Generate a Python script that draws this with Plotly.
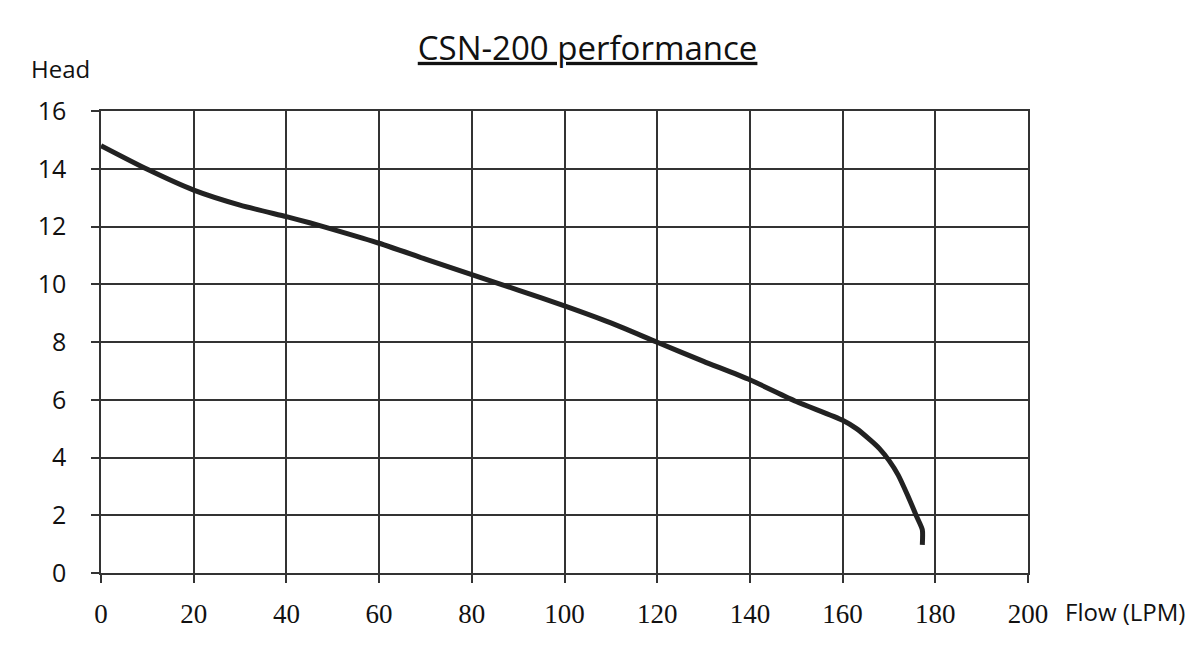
import plotly.graph_objects as go

# pump curve
flow_lpm = [0, 10, 20, 30, 40, 45, 50, 60, 70, 80, 90, 100, 110, 120, 130, 140,
            150, 160, 163, 166, 168, 170, 172, 174, 176, 177.2, 177.2]
head = [14.8, 13.98, 13.26, 12.74, 12.34, 12.13, 11.9, 11.42, 10.87, 10.33, 9.8, 9.25,
        8.66, 7.99, 7.33, 6.69, 5.94, 5.29, 5.0, 4.6, 4.3, 3.9, 3.39, 2.7, 1.95, 1.5, 0.97]

x_ticks = [0, 20, 40, 60, 80, 100, 120, 140, 160, 180, 200]
y_ticks = [0, 2, 4, 6, 8, 10, 12, 14, 16]

fig = go.Figure()
fig.add_trace(go.Scatter(
    x=flow_lpm, y=head, mode="lines",
    line=dict(color="#222222", width=5, shape="spline", smoothing=0.6),
    showlegend=False, hoverinfo="skip",
))

grid_col = "#333333"
fig.update_layout(
    width=1200, height=650,
    paper_bgcolor="white", plot_bgcolor="white",
    margin=dict(l=93, r=180, t=103, b=85, autoexpand=False),
    title=dict(text="<u>CSN-200 performance</u>", x=0.483, xanchor="center",
               y=0.938, yanchor="middle",
               font=dict(family="Open Sans", size=33, color="#111111")),
    xaxis=dict(range=[0, 200], tickvals=x_ticks, ticks="outside", ticklen=8,
               tickcolor=grid_col, tickwidth=1.5,
               showgrid=True, gridcolor=grid_col, gridwidth=1.5,
               showline=True, linecolor=grid_col, linewidth=1.5, mirror=True,
               zeroline=False, ticklabelstandoff=8, automargin=False,
               tickfont=dict(family="Liberation Serif", size=27, color="#111111")),
    yaxis=dict(range=[0, 16], tickvals=y_ticks, ticks="outside", ticklen=8,
               tickcolor=grid_col, tickwidth=1.5,
               showgrid=True, gridcolor=grid_col, gridwidth=1.5,
               showline=True, linecolor=grid_col, linewidth=1.5, mirror=True,
               zeroline=False, ticklabelstandoff=20, automargin=False,
               tickfont=dict(family="Open Sans", size=25, color="#111111")),
)

fig.add_annotation(text="Head", xref="paper", yref="paper", x=-0.0442, y=1.091,
                   xanchor="center", yanchor="middle", showarrow=False,
                   font=dict(family="Open Sans", size=24, color="#111111"))
fig.add_annotation(text="Flow (LPM)", xref="paper", yref="paper", x=1.038, y=-0.0844,
                   xanchor="left", yanchor="middle", showarrow=False,
                   font=dict(family="Open Sans", size=24, color="#111111"))

fig.write_html("out.html")
